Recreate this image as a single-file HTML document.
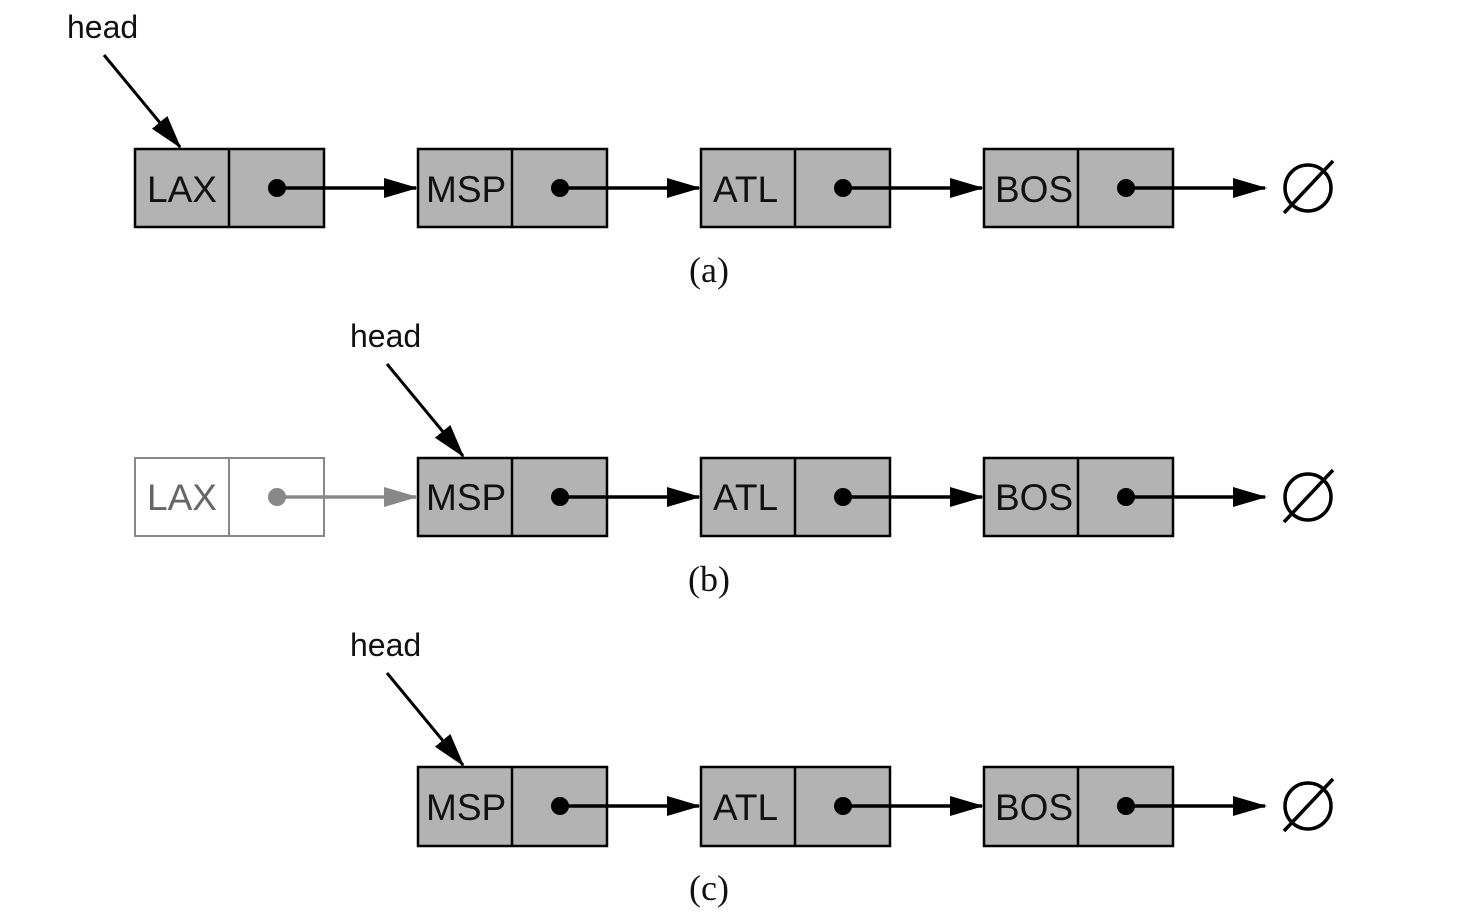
<!DOCTYPE html>
<html><head><meta charset="utf-8"><style>body{margin:0;background:#fff}svg{display:block}</style></head><body>
<svg width="1470" height="916" viewBox="0 0 1470 916" xmlns="http://www.w3.org/2000/svg">
<defs>
<marker id="ah" markerWidth="34" markerHeight="20" refX="32" refY="10" orient="auto" markerUnits="userSpaceOnUse"><path d="M0,0 L34,10 L0,20 z" fill="#000"/></marker>
<marker id="ag" markerWidth="34" markerHeight="20" refX="32" refY="10" orient="auto" markerUnits="userSpaceOnUse"><path d="M0,0 L34,10 L0,20 z" fill="#888"/></marker>
<g id="null"><circle cx="0" cy="0" r="23" fill="none" stroke="#000" stroke-width="3.5"/><line x1="-24" y1="25" x2="25" y2="-27" stroke="#000" stroke-width="3.5"/></g>
</defs>
<g font-family="Liberation Sans, sans-serif" font-size="37" fill="#111">
<!-- row a -->
<text x="67" y="38" font-size="32">head</text>
<line x1="104" y1="55" x2="180" y2="147" stroke="#000" stroke-width="3" marker-end="url(#ah)"/>
<g stroke="#000" stroke-width="2.5" fill="#b3b3b3">
<rect x="135" y="149" width="189" height="78"/><line x1="229" y1="149" x2="229" y2="227"/>
<rect x="418" y="149" width="189" height="78"/><line x1="512" y1="149" x2="512" y2="227"/>
<rect x="701" y="149" width="189" height="78"/><line x1="795" y1="149" x2="795" y2="227"/>
<rect x="984" y="149" width="189" height="78"/><line x1="1078" y1="149" x2="1078" y2="227"/>
</g>
<text x="147" y="202">LAX</text><text x="426" y="202">MSP</text><text x="713" y="202">ATL</text><text x="995" y="202">BOS</text>
<g stroke="#000" stroke-width="3.5">
<line x1="277" y1="188" x2="416" y2="188" marker-end="url(#ah)"/>
<line x1="560" y1="188" x2="699" y2="188" marker-end="url(#ah)"/>
<line x1="843" y1="188" x2="982" y2="188" marker-end="url(#ah)"/>
<line x1="1126" y1="188" x2="1265" y2="188" marker-end="url(#ah)"/>
</g>
<g fill="#000"><circle cx="277" cy="188" r="9"/><circle cx="560" cy="188" r="9"/><circle cx="843" cy="188" r="9"/><circle cx="1126" cy="188" r="9"/></g>
<use href="#null" x="1308" y="188"/>
<text x="709" y="282" text-anchor="middle" font-family="Liberation Serif, serif" font-size="36">(a)</text>

<!-- row b -->
<text x="350" y="347" font-size="32">head</text>
<line x1="387" y1="364" x2="463" y2="456" stroke="#000" stroke-width="3" marker-end="url(#ah)"/>
<g stroke="#888" stroke-width="2" fill="#fff"><rect x="135" y="458" width="189" height="78"/><line x1="229" y1="458" x2="229" y2="536"/></g>
<g stroke="#000" stroke-width="2.5" fill="#b3b3b3">
<rect x="418" y="458" width="189" height="78"/><line x1="512" y1="458" x2="512" y2="536"/>
<rect x="701" y="458" width="189" height="78"/><line x1="795" y1="458" x2="795" y2="536"/>
<rect x="984" y="458" width="189" height="78"/><line x1="1078" y1="458" x2="1078" y2="536"/>
</g>
<text x="147" y="510" fill="#666">LAX</text><text x="426" y="510">MSP</text><text x="713" y="510">ATL</text><text x="995" y="510">BOS</text>
<line x1="277" y1="497" x2="416" y2="497" stroke="#888" stroke-width="3.5" marker-end="url(#ag)"/>
<circle cx="277" cy="497" r="9" fill="#888"/>
<g stroke="#000" stroke-width="3.5">
<line x1="560" y1="497" x2="699" y2="497" marker-end="url(#ah)"/>
<line x1="843" y1="497" x2="982" y2="497" marker-end="url(#ah)"/>
<line x1="1126" y1="497" x2="1265" y2="497" marker-end="url(#ah)"/>
</g>
<g fill="#000"><circle cx="560" cy="497" r="9"/><circle cx="843" cy="497" r="9"/><circle cx="1126" cy="497" r="9"/></g>
<use href="#null" x="1308" y="497"/>
<text x="709" y="591" text-anchor="middle" font-family="Liberation Serif, serif" font-size="36">(b)</text>

<!-- row c -->
<text x="350" y="656" font-size="32">head</text>
<line x1="387" y1="673" x2="463" y2="765" stroke="#000" stroke-width="3" marker-end="url(#ah)"/>
<g stroke="#000" stroke-width="2.5" fill="#b3b3b3">
<rect x="418" y="767" width="189" height="79"/><line x1="512" y1="767" x2="512" y2="846"/>
<rect x="701" y="767" width="189" height="79"/><line x1="795" y1="767" x2="795" y2="846"/>
<rect x="984" y="767" width="189" height="79"/><line x1="1078" y1="767" x2="1078" y2="846"/>
</g>
<text x="426" y="820">MSP</text><text x="713" y="820">ATL</text><text x="995" y="820">BOS</text>
<g stroke="#000" stroke-width="3.5">
<line x1="560" y1="806" x2="699" y2="806" marker-end="url(#ah)"/>
<line x1="843" y1="806" x2="982" y2="806" marker-end="url(#ah)"/>
<line x1="1126" y1="806" x2="1265" y2="806" marker-end="url(#ah)"/>
</g>
<g fill="#000"><circle cx="560" cy="806" r="9"/><circle cx="843" cy="806" r="9"/><circle cx="1126" cy="806" r="9"/></g>
<use href="#null" x="1308" y="806"/>
<text x="709" y="900" text-anchor="middle" font-family="Liberation Serif, serif" font-size="36">(c)</text>
</g>
</svg>
</body></html>
